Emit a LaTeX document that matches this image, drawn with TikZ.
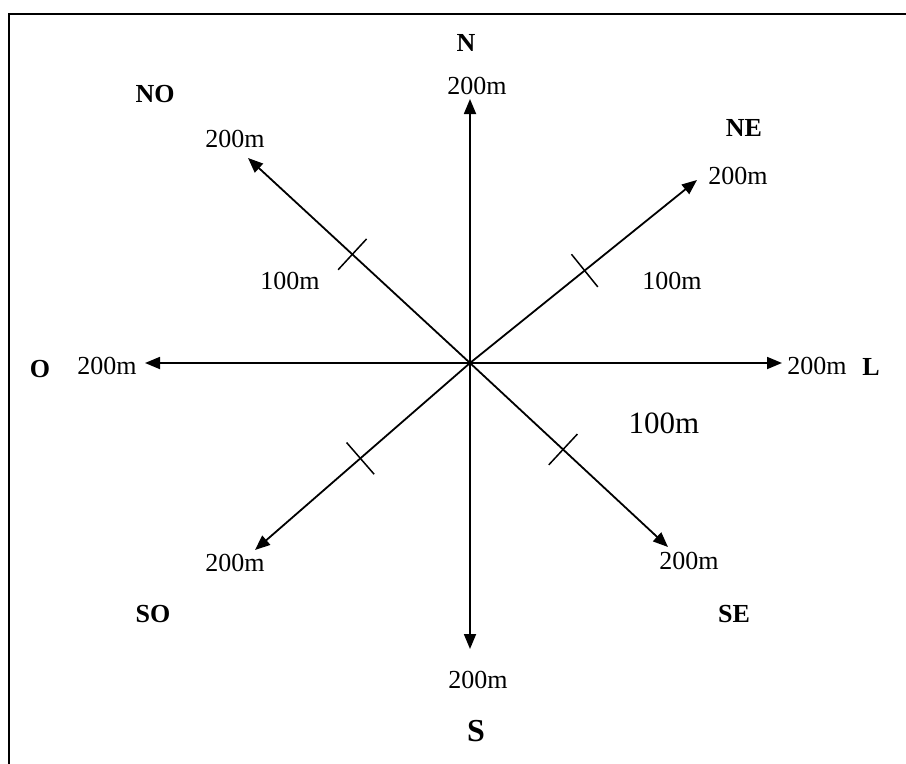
\documentclass[tikz,border=0pt]{standalone}
\usepackage{fontspec}
\setmainfont{Liberation Serif}
\usetikzlibrary{arrows.meta,calc}
\begin{document}
\begin{tikzpicture}[x=1bp,y=-1bp,
  lbl/.style={inner sep=0pt,font=\fontsize{26bp}{30bp}\selectfont},
  dirlbl/.style={inner sep=0pt,font=\fontsize{26bp}{30bp}\selectfont\bfseries},
  ray/.style={line width=1.8bp,-{Triangle[length=15bp,width=12bp]}},
  tick/.style={line width=1.5bp},
  frame/.style={line width=1.5bp}]
\useasboundingbox (0,0) rectangle (906,764);
% frame (top and left only)
\coordinate (fbl) at (9,764);
\coordinate (ftl) at (9,14);
\coordinate (ftr) at (906,14);
\draw[frame] (fbl) -- (ftl) -- (ftr);
% centre and tips
\coordinate (c) at (470,363);
\coordinate (tn) at (470,99);
\coordinate (ts) at (470,649);
\coordinate (to) at (145,363);
\coordinate (tl) at (782,363);
\coordinate (tne) at (697,180);
\coordinate (tno) at (248,158);
\coordinate (tse) at (668,547);
\coordinate (tso) at (255,550);
\foreach \t in {tn,ts,to,tl,tne,tno,tse,tso} \draw[ray] (c) -- (\t);
% ticks at 100m
\coordinate (mno) at ($(c)!0.53!(tno)$);
\coordinate (mne) at ($(c)!0.505!(tne)$);
\coordinate (mse) at ($(c)!0.47!(tse)$);
\coordinate (mso) at ($(c)!0.51!(tso)$);
\foreach \m/\t in {mno/tno,mne/tne,mse/tse,mso/tso}
  \draw[tick] ($(\m)!21bp!90:(\t)$) -- ($(\m)!21bp!-90:(\t)$);
% direction labels
\node[dirlbl] (N) at (466,43) {N};
\node[dirlbl,font=\fontsize{32bp}{36bp}\selectfont\bfseries] (S) at (476,731) {S};
\node[dirlbl] (O) at (40,369) {O};
\node[dirlbl] (L) at (871,367) {L};
\node[dirlbl] (NE) at (744,128) {NE};
\node[dirlbl] (NO) at (155,94) {NO};
\node[dirlbl] (SE) at (734,614) {SE};
\node[dirlbl] (SO) at (153,614) {SO};
% distance labels
\node[lbl] (dn) at (477,86) {200m};
\node[lbl] (ds) at (478,680) {200m};
\node[lbl] (do) at (107,366) {200m};
\node[lbl] (dl) at (817,366) {200m};
\node[lbl] (dne) at (738,176) {200m};
\node[lbl] (dno) at (235,139) {200m};
\node[lbl] (dse) at (689,561) {200m};
\node[lbl] (dso) at (235,563) {200m};
\node[lbl] (hno) at (290,281) {100m};
\node[lbl] (hne) at (672,281) {100m};
\node[lbl,font=\fontsize{31bp}{35bp}\selectfont] (hse) at (664,423) {100m};
\end{tikzpicture}
\end{document}
